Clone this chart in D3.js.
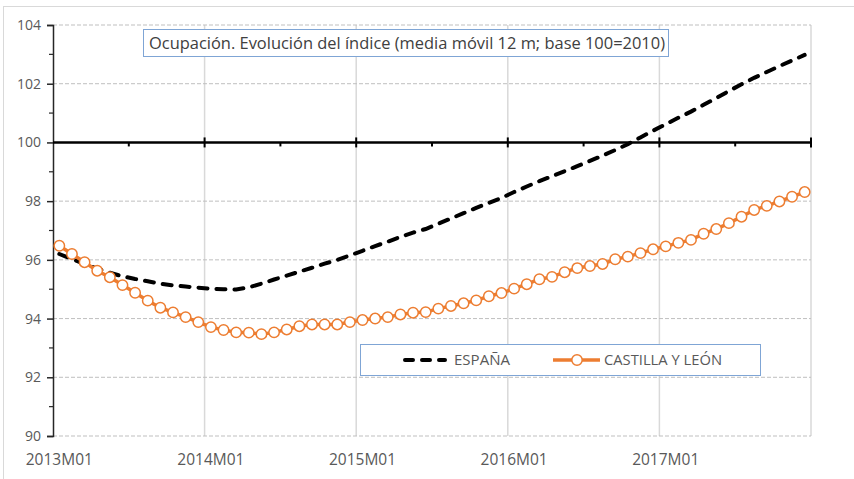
<!DOCTYPE html>
<html>
<head>
<meta charset="utf-8">
<script src="https://cdn.jsdelivr.net/npm/d3@7"></script>
<style>
  body { margin: 0; background: #fff; }
  svg { display: block; font-family: "Open Sans", "Liberation Sans", sans-serif; }
</style>
</head>
<body>
<svg id="chart" width="854" height="479"></svg>
<script>
// Datos
const years = ["2013", "2014", "2015", "2016", "2017"];
const monthCodes = ["M01", "M02", "M03", "M04", "M05", "M06", "M07", "M08", "M09", "M10", "M11", "M12"];
const months = years.flatMap(y => monthCodes.map(m => y + m));

const espana = [
  96.20, 96.03, 95.86, 95.70, 95.56, 95.44, 95.35, 95.27, 95.19, 95.13, 95.09, 95.05,
  95.02, 95.00, 94.99, 95.06, 95.19, 95.33, 95.46, 95.60, 95.73, 95.87, 96.00, 96.15,
  96.31, 96.47, 96.62, 96.78, 96.93, 97.05, 97.23, 97.41, 97.59, 97.77, 97.94, 98.11,
  98.31, 98.50, 98.68, 98.85, 99.02, 99.19, 99.37, 99.55, 99.74, 99.94, 100.17, 100.40,
  100.62, 100.84, 101.05, 101.28, 101.51, 101.75, 101.98, 102.20, 102.40, 102.60, 102.79, 102.98
];
const castilla = [
  96.48, 96.20, 95.92, 95.63, 95.41, 95.14, 94.88, 94.61, 94.37, 94.21, 94.05, 93.88,
  93.71, 93.61, 93.53, 93.52, 93.47, 93.53, 93.63, 93.74, 93.80, 93.80, 93.80, 93.88,
  93.95, 94.00, 94.05, 94.14, 94.20, 94.22, 94.34, 94.43, 94.52, 94.62, 94.76, 94.87,
  95.02, 95.17, 95.34, 95.42, 95.58, 95.72, 95.79, 95.86, 96.02, 96.11, 96.23, 96.36,
  96.46, 96.58, 96.68, 96.89, 97.05, 97.25, 97.47, 97.70, 97.84, 97.99, 98.15, 98.31
];
const yTicks = [90, 92, 94, 96, 98, 100, 102, 104];
const titulo = "Ocupación. Evolución del índice (media móvil 12 m; base 100=2010)";
const serieNames = ["ESPAÑA", "CASTILLA Y LEÓN"];

// Configuración
const svg = d3.select("#chart");
const plotLeft = 53, plotRight = 811, plotTop = 25, plotBottom = 436;
const orange = "#ED7D31";
const boxBlue = "#7FA5D5";

const x = d3.scaleBand().domain(months).range([plotLeft, plotRight]).padding(0);
const xc = d => x(d) + x.bandwidth() / 2;
const y = d3.scaleLinear().domain([90, 104]).range([plotBottom, plotTop]);

// Marco exterior
svg.append("rect")
  .attr("x", 3.5).attr("y", 6.5)
  .attr("width", 900).attr("height", 500)
  .attr("fill", "none")
  .attr("stroke", "#d9d9d9");

// Líneas de cuadrícula verticales (cada año)
const yearStarts = months.filter((m, i) => i % 12 === 0);
const yearEdges = yearStarts.slice(1).map(d => x(d)).concat([plotRight]);
svg.append("g")
  .selectAll("line")
  .data(yearEdges)
  .join("line")
  .attr("x1", d => d)
  .attr("x2", d => d)
  .attr("y1", plotTop)
  .attr("y2", plotBottom)
  .attr("stroke", "#d9d9d9")
  .attr("stroke-width", 1.5);

// Líneas de cuadrícula horizontales
svg.append("g")
  .selectAll("line")
  .data(yTicks.filter(v => v !== 100))
  .join("line")
  .attr("x1", plotLeft)
  .attr("x2", plotRight)
  .attr("y1", d => y(d))
  .attr("y2", d => y(d))
  .attr("stroke", "#bfbfbf")
  .attr("stroke-width", 1)
  .attr("stroke-dasharray", "4,2");

// Eje Y
const yAxis = svg.append("g").attr("transform", `translate(${plotLeft},0)`);
yAxis.call(d3.axisLeft(y).tickValues(yTicks).tickSize(6).tickFormat(d3.format("d")));
yAxis.select(".domain").attr("stroke", "#262626").attr("stroke-width", 1.5);
yAxis.selectAll(".tick line").attr("stroke", "#262626").attr("stroke-width", 1.5);
yAxis.selectAll(".tick text")
  .attr("x", -12)
  .attr("fill", "#595959")
  .style("font-size", "14px")
  .style("font-family", "'Open Sans', sans-serif");
// marcas menores
yAxis.append("g")
  .selectAll("line")
  .data(d3.range(91, 104, 2))
  .join("line")
  .attr("x1", -4).attr("x2", 0)
  .attr("y1", d => y(d)).attr("y2", d => y(d))
  .attr("stroke", "#262626")
  .attr("stroke-width", 1.2);

// Eje X en 100
const y100 = y(100);
svg.append("line")
  .attr("x1", plotLeft).attr("x2", plotRight + 1)
  .attr("y1", y100).attr("y2", y100)
  .attr("stroke", "#000")
  .attr("stroke-width", 2.5);
const halfYears = months.filter((m, i) => i % 6 === 0 && i % 12 !== 0);
svg.append("g")
  .selectAll("line")
  .data(halfYears)
  .join("line")
  .attr("x1", d => x(d)).attr("x2", d => x(d))
  .attr("y1", y100).attr("y2", y100 + 4)
  .attr("stroke", "#000").attr("stroke-width", 2);
svg.append("g")
  .selectAll("line")
  .data(yearEdges)
  .join("line")
  .attr("x1", d => d).attr("x2", d => d)
  .attr("y1", y100 - 5).attr("y2", y100 + 5)
  .attr("stroke", "#000").attr("stroke-width", 2);

// Etiquetas del eje X
svg.append("g")
  .selectAll("text")
  .data(yearStarts)
  .join("text")
  .attr("x", d => xc(d))
  .attr("y", 465)
  .attr("text-anchor", "middle")
  .attr("fill", "#595959")
  .style("font-size", "15.5px")
  .text(d => d);

// Serie España
const lineEsp = d3.line().x((d, i) => xc(months[i])).y(d => y(d));
svg.append("path")
  .datum(espana)
  .attr("d", lineEsp)
  .attr("fill", "none")
  .attr("stroke", "#000")
  .attr("stroke-width", 4)
  .attr("stroke-linecap", "round")
  .attr("stroke-dasharray", "9,9");

// Serie Castilla y León
const lineCyl = d3.line().x((d, i) => xc(months[i])).y(d => y(d));
svg.append("path")
  .datum(castilla)
  .attr("d", lineCyl)
  .attr("fill", "none")
  .attr("stroke", orange)
  .attr("stroke-width", 3.5);
svg.append("g")
  .selectAll("circle")
  .data(castilla)
  .join("circle")
  .attr("cx", (d, i) => xc(months[i]))
  .attr("cy", d => y(d))
  .attr("r", 5.2)
  .attr("fill", "#fff")
  .attr("stroke", orange)
  .attr("stroke-width", 1.5);

// Título
const tg = svg.append("g");
tg.append("rect")
  .attr("x", 143.5).attr("y", 29.5)
  .attr("width", 525).attr("height", 27)
  .attr("fill", "#fff")
  .attr("stroke", boxBlue);
tg.append("text")
  .attr("x", 149).attr("y", 49)
  .attr("fill", "#404040")
  .attr("textLength", 516)
  .attr("lengthAdjust", "spacingAndGlyphs")
  .style("font-size", "16.5px")
  .text(titulo);

// Leyenda
const lg = svg.append("g");
lg.append("rect")
  .attr("x", 360.5).attr("y", 344.5)
  .attr("width", 400).attr("height", 31)
  .attr("fill", "#fff")
  .attr("stroke", boxBlue);
lg.append("line")
  .attr("x1", 405).attr("x2", 445)
  .attr("y1", 360).attr("y2", 360)
  .attr("stroke", "#000")
  .attr("stroke-width", 4)
  .attr("stroke-linecap", "round")
  .attr("stroke-dasharray", "8,9");
lg.append("text")
  .attr("x", 454).attr("y", 365)
  .attr("fill", "#595959")
  .attr("textLength", 56)
  .attr("lengthAdjust", "spacingAndGlyphs")
  .style("font-size", "14.5px")
  .text(serieNames[0]);
lg.append("line")
  .attr("x1", 553).attr("x2", 600)
  .attr("y1", 360).attr("y2", 360)
  .attr("stroke", orange)
  .attr("stroke-width", 3.5);
lg.append("circle")
  .attr("cx", 577).attr("cy", 360)
  .attr("r", 5.2)
  .attr("fill", "#fff")
  .attr("stroke", orange)
  .attr("stroke-width", 1.5);
lg.append("text")
  .attr("x", 604).attr("y", 365)
  .attr("fill", "#595959")
  .attr("textLength", 118)
  .attr("lengthAdjust", "spacingAndGlyphs")
  .style("font-size", "14.5px")
  .text(serieNames[1]);
</script>
</body>
</html>
